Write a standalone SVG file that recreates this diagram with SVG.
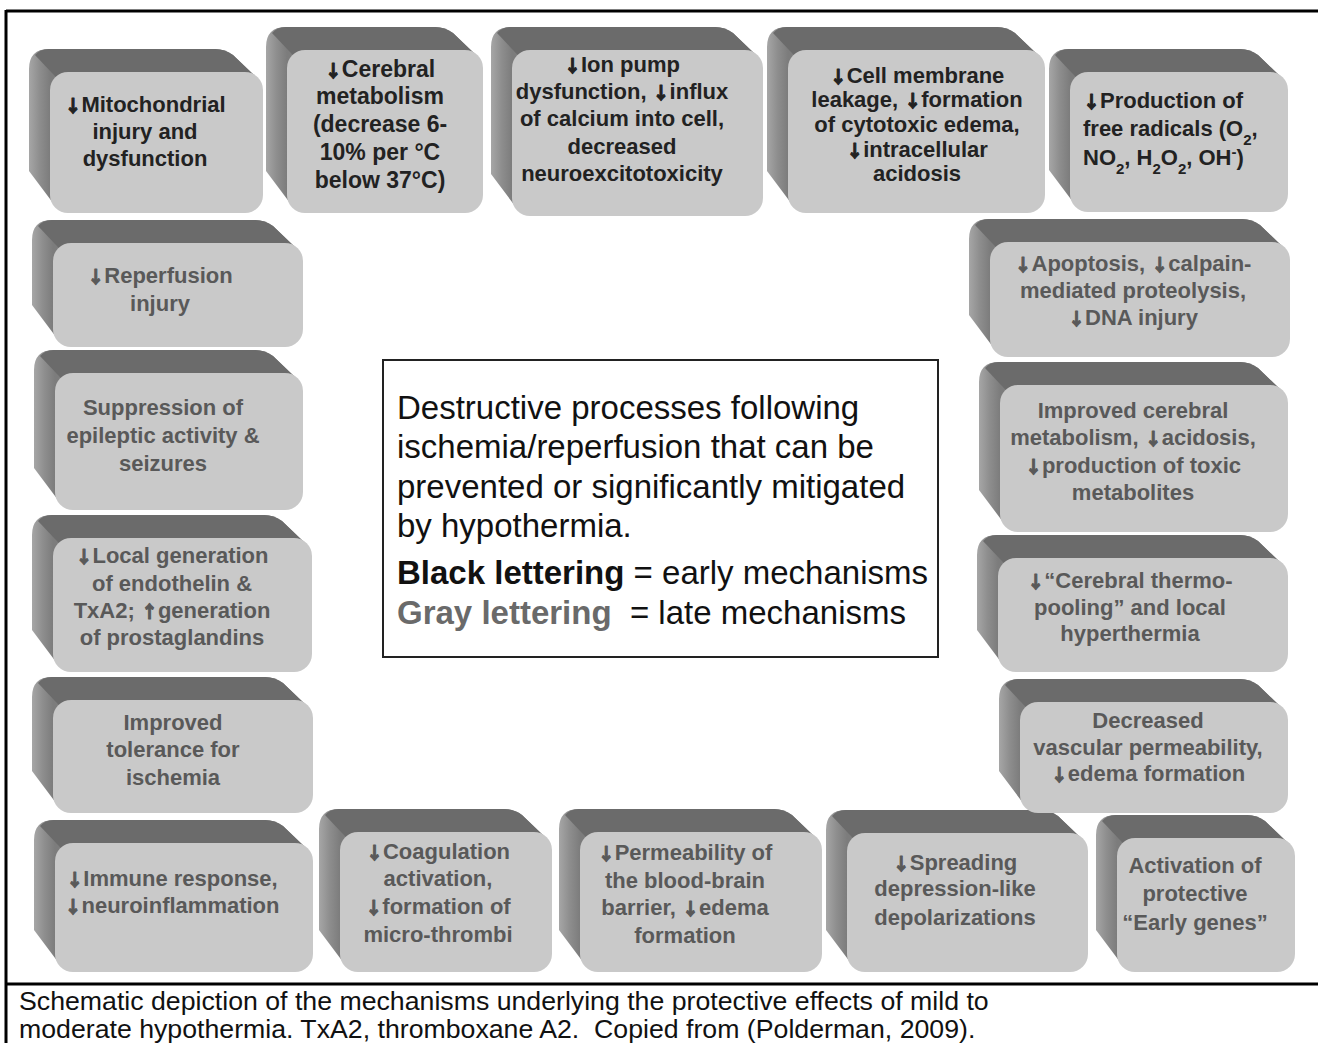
<svg xmlns="http://www.w3.org/2000/svg" width="1318" height="1043" viewBox="0 0 1318 1043">
<defs>
<linearGradient id="gl" gradientUnits="userSpaceOnUse" x1="-21" y1="0" x2="0" y2="0">
<stop offset="0" stop-color="#a6a6a6"/><stop offset="0.5" stop-color="#8e8e8e"/><stop offset="1" stop-color="#7c7c7c"/>
</linearGradient>
</defs>
<style>
.hull{fill:url(#gl)}
.top{fill:#6b6b6b}
.face{fill:#c9c9c9}
.t{font-family:"Liberation Sans",Arial,sans-serif;font-weight:bold;font-size:22px;text-anchor:middle}
.ar{font-family:"Noto Sans CJK SC","DejaVu Sans",sans-serif;font-weight:900;font-size:17px;stroke-width:1px;stroke-linejoin:round}
.blk{fill:#222}
.blk .ar{stroke:#222}
.gry{fill:#595959}
.gry .ar{stroke:#595959}
.frame{stroke:#000;stroke-width:3;fill:none}
.lg{font-family:"Liberation Sans",Arial,sans-serif;font-size:33px;fill:#111}
.cap{font-family:"Liberation Sans",Arial,sans-serif;font-size:26.7px;fill:#111}
</style>
<rect width="1318" height="1043" fill="#fff"/>
<g id="frame">
<path class="frame" d="M6,11 H1318 M6,10 V1043 M5,984 H1318"/>
</g>

<g id="n1" transform="translate(50,72)">
<path class="hull" d="M-21,-3 Q-21,-23 -1,-23 L165,-23 Q175,-23 183,-17 L207,6 L193,20 L20,121 L6,135 L-21,99 Z"/>
<path class="top" d="M-15,-17 Q-10,-23 -1,-23 L165,-23 Q175,-23 183,-17 L207,6 L193,20 L20,20 Z"/>
<rect class="face" width="213" height="141" rx="18"/>
<text class="t blk"><tspan x="95" y="40"><tspan class="ar">↓</tspan>Mitochondrial</tspan><tspan x="95" y="67">injury and</tspan><tspan x="95" y="94">dysfunction</tspan></text>
</g>

<g id="n2" transform="translate(287,50)">
<path class="hull" d="M-21,-3 Q-21,-23 -1,-23 L148,-23 Q158,-23 166,-17 L190,6 L176,20 L20,143 L6,157 L-21,121 Z"/>
<path class="top" d="M-15,-17 Q-10,-23 -1,-23 L148,-23 Q158,-23 166,-17 L190,6 L176,20 L20,20 Z"/>
<rect class="face" width="196" height="163" rx="18"/>
<text class="t blk" style="font-size:23px"><tspan x="93" y="27"><tspan class="ar">↓</tspan>Cerebral</tspan><tspan x="93" y="54">metabolism</tspan><tspan x="93" y="82">(decrease 6-</tspan><tspan x="93" y="110">10% per °C</tspan><tspan x="93" y="138">below 37°C)</tspan></text>
</g>

<g id="n3" transform="translate(512,50)">
<path class="hull" d="M-21,-3 Q-21,-23 -1,-23 L203,-23 Q213,-23 221,-17 L245,6 L231,20 L20,146 L6,160 L-21,124 Z"/>
<path class="top" d="M-15,-17 Q-10,-23 -1,-23 L203,-23 Q213,-23 221,-17 L245,6 L231,20 L20,20 Z"/>
<rect class="face" width="251" height="166" rx="18"/>
<text class="t blk"><tspan x="110" y="22"><tspan class="ar">↓</tspan>Ion pump</tspan><tspan x="110" y="49">dysfunction, <tspan class="ar">↓</tspan>influx</tspan><tspan x="110" y="76">of calcium into cell,</tspan><tspan x="110" y="104">decreased</tspan><tspan x="110" y="131">neuroexcitotoxicity</tspan></text>
</g>

<g id="n4" transform="translate(788,50)">
<path class="hull" d="M-21,-3 Q-21,-23 -1,-23 L209,-23 Q219,-23 227,-17 L251,6 L237,20 L20,143 L6,157 L-21,121 Z"/>
<path class="top" d="M-15,-17 Q-10,-23 -1,-23 L209,-23 Q219,-23 227,-17 L251,6 L237,20 L20,20 Z"/>
<rect class="face" width="257" height="163" rx="18"/>
<text class="t blk"><tspan x="129" y="33"><tspan class="ar">↓</tspan>Cell membrane</tspan><tspan x="129" y="57">leakage, <tspan class="ar">↓</tspan>formation</tspan><tspan x="129" y="82">of cytotoxic edema,</tspan><tspan x="129" y="107"><tspan class="ar">↓</tspan>intracellular</tspan><tspan x="129" y="131">acidosis</tspan></text>
</g>

<g id="n5" transform="translate(1070,72)">
<path class="hull" d="M-21,-3 Q-21,-23 -1,-23 L170,-23 Q180,-23 188,-17 L212,6 L198,20 L20,120 L6,134 L-21,98 Z"/>
<path class="top" d="M-15,-17 Q-10,-23 -1,-23 L170,-23 Q180,-23 188,-17 L212,6 L198,20 L20,20 Z"/>
<rect class="face" width="218" height="140" rx="18"/>
<text class="t blk" style="text-anchor:start"><tspan x="13" y="36"><tspan class="ar">↓</tspan>Production of</tspan><tspan x="13" y="64">free radicals (O<tspan font-size="15" baseline-shift="sub">2</tspan>,</tspan><tspan x="13" y="93">NO<tspan font-size="15" baseline-shift="sub">2</tspan>, H<tspan font-size="15" baseline-shift="sub">2</tspan>O<tspan font-size="15" baseline-shift="sub">2</tspan>, OH<tspan font-size="15" baseline-shift="super">-</tspan>)</tspan></text>
</g>

<g id="n6" transform="translate(53,243)">
<path class="hull" d="M-21,-3 Q-21,-23 -1,-23 L202,-23 Q212,-23 220,-17 L244,6 L230,20 L20,84 L6,98 L-21,62 Z"/>
<path class="top" d="M-15,-17 Q-10,-23 -1,-23 L202,-23 Q212,-23 220,-17 L244,6 L230,20 L20,20 Z"/>
<rect class="face" width="250" height="104" rx="18"/>
<text class="t gry"><tspan x="107" y="40"><tspan class="ar">↓</tspan>Reperfusion</tspan><tspan x="107" y="68">injury</tspan></text>
</g>

<g id="n7" transform="translate(55,373)">
<path class="hull" d="M-21,-3 Q-21,-23 -1,-23 L200,-23 Q210,-23 218,-17 L242,6 L228,20 L20,117 L6,131 L-21,95 Z"/>
<path class="top" d="M-15,-17 Q-10,-23 -1,-23 L200,-23 Q210,-23 218,-17 L242,6 L228,20 L20,20 Z"/>
<rect class="face" width="248" height="137" rx="18"/>
<text class="t gry"><tspan x="108" y="42">Suppression of</tspan><tspan x="108" y="70">epileptic activity &amp;</tspan><tspan x="108" y="98">seizures</tspan></text>
</g>

<g id="n8" transform="translate(53,538)">
<path class="hull" d="M-21,-3 Q-21,-23 -1,-23 L211,-23 Q221,-23 229,-17 L253,6 L239,20 L20,114 L6,128 L-21,92 Z"/>
<path class="top" d="M-15,-17 Q-10,-23 -1,-23 L211,-23 Q221,-23 229,-17 L253,6 L239,20 L20,20 Z"/>
<rect class="face" width="259" height="134" rx="18"/>
<text class="t gry"><tspan x="119" y="25"><tspan class="ar">↓</tspan>Local generation</tspan><tspan x="119" y="53">of endothelin &amp;</tspan><tspan x="119" y="80">TxA2; <tspan class="ar">↑</tspan>generation</tspan><tspan x="119" y="107">of prostaglandins</tspan></text>
</g>

<g id="n9" transform="translate(53,700)">
<path class="hull" d="M-21,-3 Q-21,-23 -1,-23 L212,-23 Q222,-23 230,-17 L254,6 L240,20 L20,93 L6,107 L-21,71 Z"/>
<path class="top" d="M-15,-17 Q-10,-23 -1,-23 L212,-23 Q222,-23 230,-17 L254,6 L240,20 L20,20 Z"/>
<rect class="face" width="260" height="113" rx="18"/>
<text class="t gry"><tspan x="120" y="30">Improved</tspan><tspan x="120" y="57">tolerance for</tspan><tspan x="120" y="85">ischemia</tspan></text>
</g>

<g id="n10" transform="translate(55,843)">
<path class="hull" d="M-21,-3 Q-21,-23 -1,-23 L210,-23 Q220,-23 228,-17 L252,6 L238,20 L20,109 L6,123 L-21,87 Z"/>
<path class="top" d="M-15,-17 Q-10,-23 -1,-23 L210,-23 Q220,-23 228,-17 L252,6 L238,20 L20,20 Z"/>
<rect class="face" width="258" height="129" rx="18"/>
<text class="t gry"><tspan x="117" y="43"><tspan class="ar">↓</tspan>Immune response,</tspan><tspan x="117" y="70"><tspan class="ar">↓</tspan>neuroinflammation</tspan></text>
</g>

<g id="n11" transform="translate(340,832)">
<path class="hull" d="M-21,-3 Q-21,-23 -1,-23 L164,-23 Q174,-23 182,-17 L206,6 L192,20 L20,120 L6,134 L-21,98 Z"/>
<path class="top" d="M-15,-17 Q-10,-23 -1,-23 L164,-23 Q174,-23 182,-17 L206,6 L192,20 L20,20 Z"/>
<rect class="face" width="212" height="140" rx="18"/>
<text class="t gry"><tspan x="98" y="27"><tspan class="ar">↓</tspan>Coagulation</tspan><tspan x="98" y="54">activation,</tspan><tspan x="98" y="82"><tspan class="ar">↓</tspan>formation of</tspan><tspan x="98" y="110">micro-thrombi</tspan></text>
</g>

<g id="n12" transform="translate(580,832)">
<path class="hull" d="M-21,-3 Q-21,-23 -1,-23 L194,-23 Q204,-23 212,-17 L236,6 L222,20 L20,120 L6,134 L-21,98 Z"/>
<path class="top" d="M-15,-17 Q-10,-23 -1,-23 L194,-23 Q204,-23 212,-17 L236,6 L222,20 L20,20 Z"/>
<rect class="face" width="242" height="140" rx="18"/>
<text class="t gry"><tspan x="105" y="28"><tspan class="ar">↓</tspan>Permeability of</tspan><tspan x="105" y="56">the blood-brain</tspan><tspan x="105" y="83">barrier, <tspan class="ar">↓</tspan>edema</tspan><tspan x="105" y="111">formation</tspan></text>
</g>

<g id="n13" transform="translate(847,833)">
<path class="hull" d="M-21,-3 Q-21,-23 -1,-23 L193,-23 Q203,-23 211,-17 L235,6 L221,20 L20,119 L6,133 L-21,97 Z"/>
<path class="top" d="M-15,-17 Q-10,-23 -1,-23 L193,-23 Q203,-23 211,-17 L235,6 L221,20 L20,20 Z"/>
<rect class="face" width="241" height="139" rx="18"/>
<text class="t gry"><tspan x="108" y="37"><tspan class="ar">↓</tspan>Spreading</tspan><tspan x="108" y="63">depression-like</tspan><tspan x="108" y="92">depolarizations</tspan></text>
</g>

<g id="n14" transform="translate(1117,838)">
<path class="hull" d="M-21,-3 Q-21,-23 -1,-23 L130,-23 Q140,-23 148,-17 L172,6 L158,20 L20,114 L6,128 L-21,92 Z"/>
<path class="top" d="M-15,-17 Q-10,-23 -1,-23 L130,-23 Q140,-23 148,-17 L172,6 L158,20 L20,20 Z"/>
<rect class="face" width="178" height="134" rx="18"/>
<text class="t gry"><tspan x="78" y="35">Activation of</tspan><tspan x="78" y="63">protective</tspan><tspan x="78" y="92">“Early genes”</tspan></text>
</g>

<g id="n15" transform="translate(990,242)">
<path class="hull" d="M-21,-3 Q-21,-23 -1,-23 L252,-23 Q262,-23 270,-17 L294,6 L280,20 L20,95 L6,109 L-21,73 Z"/>
<path class="top" d="M-15,-17 Q-10,-23 -1,-23 L252,-23 Q262,-23 270,-17 L294,6 L280,20 L20,20 Z"/>
<rect class="face" width="300" height="115" rx="18"/>
<text class="t gry"><tspan x="143" y="29"><tspan class="ar">↓</tspan>Apoptosis, <tspan class="ar">↓</tspan>calpain-</tspan><tspan x="143" y="56">mediated proteolysis,</tspan><tspan x="143" y="83"><tspan class="ar">↓</tspan>DNA injury</tspan></text>
</g>

<g id="n16" transform="translate(1000,385)">
<path class="hull" d="M-21,-3 Q-21,-23 -1,-23 L240,-23 Q250,-23 258,-17 L282,6 L268,20 L20,127 L6,141 L-21,105 Z"/>
<path class="top" d="M-15,-17 Q-10,-23 -1,-23 L240,-23 Q250,-23 258,-17 L282,6 L268,20 L20,20 Z"/>
<rect class="face" width="288" height="147" rx="18"/>
<text class="t gry"><tspan x="133" y="33">Improved cerebral</tspan><tspan x="133" y="60">metabolism, <tspan class="ar">↓</tspan>acidosis,</tspan><tspan x="133" y="88"><tspan class="ar">↓</tspan>production of toxic</tspan><tspan x="133" y="115">metabolites</tspan></text>
</g>

<g id="n17" transform="translate(998,558)">
<path class="hull" d="M-21,-3 Q-21,-23 -1,-23 L242,-23 Q252,-23 260,-17 L284,6 L270,20 L20,94 L6,108 L-21,72 Z"/>
<path class="top" d="M-15,-17 Q-10,-23 -1,-23 L242,-23 Q252,-23 260,-17 L284,6 L270,20 L20,20 Z"/>
<rect class="face" width="290" height="114" rx="18"/>
<text class="t gry"><tspan x="132" y="30"><tspan class="ar">↓</tspan>“Cerebral thermo-</tspan><tspan x="132" y="57">pooling” and local</tspan><tspan x="132" y="83">hyperthermia</tspan></text>
</g>

<g id="n18" transform="translate(1020,702)">
<path class="hull" d="M-21,-3 Q-21,-23 -1,-23 L220,-23 Q230,-23 238,-17 L262,6 L248,20 L20,91 L6,105 L-21,69 Z"/>
<path class="top" d="M-15,-17 Q-10,-23 -1,-23 L220,-23 Q230,-23 238,-17 L262,6 L248,20 L20,20 Z"/>
<rect class="face" width="268" height="111" rx="18"/>
<text class="t gry"><tspan x="128" y="26">Decreased</tspan><tspan x="128" y="53">vascular permeability,</tspan><tspan x="128" y="79"><tspan class="ar">↓</tspan>edema formation</tspan></text>
</g>

<g id="legend">
<rect x="383" y="360" width="555" height="297" fill="#fff" stroke="#222" stroke-width="2"/>
<text class="lg"><tspan x="397" y="419">Destructive processes following</tspan><tspan x="397" y="458">ischemia/reperfusion that can be</tspan><tspan x="397" y="498">prevented or significantly mitigated</tspan><tspan x="397" y="537">by hypothermia.</tspan></text>
<text class="lg" x="397" y="584"><tspan font-weight="bold">Black lettering</tspan> = early mechanisms</text>
<text class="lg" x="397" y="624"><tspan font-weight="bold" fill="#6a6a6a">Gray lettering</tspan>&#160; = late mechanisms</text>
</g>

<g id="caption">
<text class="cap" x="19" y="1010">Schematic depiction of the mechanisms underlying the protective effects of mild to</text>
<text class="cap" x="19" y="1038">moderate hypothermia. TxA2, thromboxane A2.&#160; Copied from (Polderman, 2009).</text>
</g>
</svg>
